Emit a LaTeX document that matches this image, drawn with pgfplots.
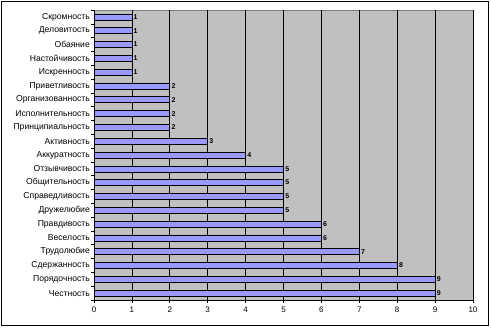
\documentclass[border=0pt]{standalone}
\usepackage{pgfplots}
\pgfplotsset{compat=1.18}
\usepackage{pgfplotstable}
\usepackage{fontspec}
\setmainfont{Liberation Sans}
\definecolor{barc}{HTML}{9999FF}
\definecolor{bgc}{HTML}{C0C0C0}
\pgfplotstableread{
idx val
0 9
1 9
2 8
3 7
4 6
5 6
6 5
7 5
8 5
9 5
10 4
11 3
12 2
13 2
14 2
15 2
16 1
17 1
18 1
19 1
20 1
}\datatable
\begin{document}
\begin{tikzpicture}[x=1pt,y=1pt]
\path (0,0) rectangle (491,328);
\draw[line width=1pt] (1.5,2.5) rectangle (488,326.5);
\begin{axis}[at={(94pt,28pt)}, anchor=south west, scale only axis,
  width=379pt, height=290pt,
  xbar, bar width=6pt,
  xmin=0, xmax=10, ymin=-0.5, ymax=20.5,
  axis x line=bottom, axis y line=left, axis line style={-, black, line width=0.6pt},
  axis background/.style={fill=bgc, draw=gray},
  xtick={0,...,10}, xmajorgrids, major grid style={black, line width=0.6pt},
  ytick={0,...,20},
  yticklabels={Честность,Порядочность,Сдержанность,Трудолюбие,Веселость,Правдивость,Дружелюбие,Справедливость,Общительность,Отзывчивость,Аккуратность,Активность,Принципиальность,Исполнительность,Организованность,Приветливость,Искренность,Настойчивость,Обаяние,Деловитость,Скромность},
  major y tick style={draw=none},
  minor ytick={-0.5,0.5,...,20.5},
  minor tick length=3pt, major tick length=3pt,
  tick align=outside,
  tick style={black, line width=0.6pt},
  yticklabel style={font=\fontsize{8.6}{10}\selectfont, inner sep=1pt},
  xticklabel style={font=\fontsize{8}{9}\selectfont},
  /pgf/number format/assume math mode=true,
  nodes near coords, nodes near coords align={horizontal},
  every node near coord/.append style={font=\fontsize{7}{8}\selectfont\bfseries, black, inner sep=1.5pt},
]
\addplot[fill=barc, draw=black, line width=0.6pt] table[x=val, y=idx] {\datatable};
\end{axis}
\end{tikzpicture}
\end{document}
